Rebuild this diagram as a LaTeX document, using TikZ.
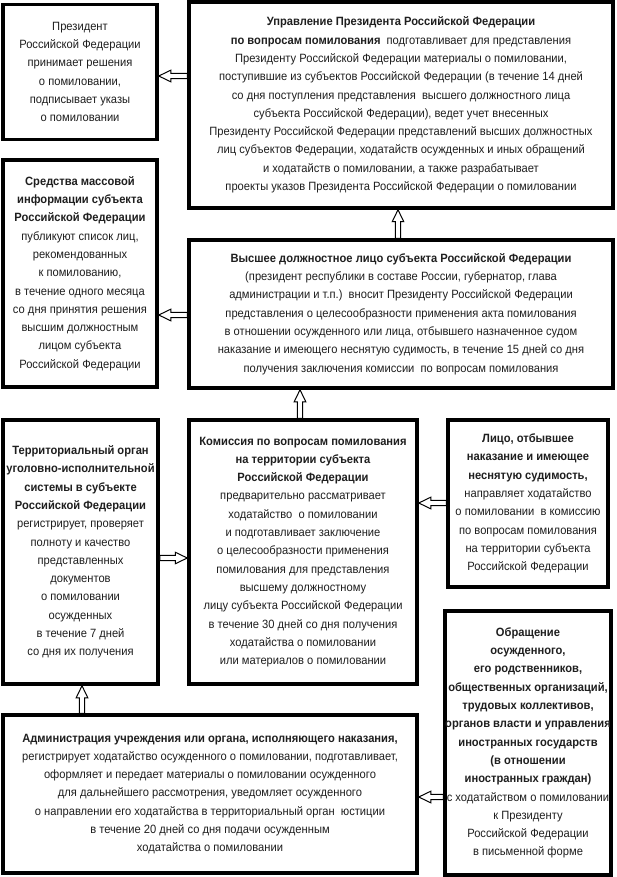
\documentclass[tikz,border=0pt]{standalone}
\usepackage{fontspec}
\setmainfont{Liberation Sans}[FakeStretch=0.93]
\usetikzlibrary{calc}
\tikzset{
  box/.style={draw=black, line width=3.5pt, align=center, inner sep=0pt,
    font=\fontsize{12}{18.3}\selectfont, text=black!88},
}
\newcommand\blockarrow[2]{%
 \path[draw=black, fill=white, line width=1pt, line join=miter]
   let \p1=(#1), \p2=(#2), \n1={atan2(\y2-\y1,\x2-\x1)}, \n2={veclen(\x2-\x1,\y2-\y1)} in
   {[shift={(\p1)}, rotate=\n1] (0pt,-2.6pt) -- ({\n2-12pt},-2.6pt) -- ({\n2-12pt},-5.8pt)
     -- ({\n2+0pt},0pt) -- ({\n2-12pt},5.8pt) -- ({\n2-12pt},2.6pt) -- (0pt,2.6pt) -- cycle};}
\begin{document}
\begin{tikzpicture}[x=1pt,y=-1pt]
\fill[white] (0,0) rectangle (616,877);
\useasboundingbox (0,0) rectangle (616,877);

\node[box, minimum width=154pt, minimum height=135pt] (b1) at (80,72)
 {Президент\\Российской Федерации\\принимает решения\\о помиловании,\\подписывает указы\\о помиловании};

\node[box, minimum width=424pt, minimum height=206pt] (b2) at (401,105)
 {\textbf{Управление Президента Российской Федерации}\\
  \textbf{по вопросам помилования}\ \ подготавливает для представления\\
  Президенту Российской Федерации материалы о помиловании,\\
  поступившие из субъектов Российской Федерации (в течение 14 дней\\
  со дня поступления представления\ \ высшего должностного лица\\
  субъекта Российской Федерации), ведет учет внесенных\\
  Президенту Российской Федерации представлений высших должностных\\
  лиц субъектов Федерации, ходатайств осужденных и иных обращений\\
  и ходатайств о помиловании, а также разрабатывает\\
  проекты указов Президента Российской Федерации о помиловании};

\node[box, minimum width=154pt, minimum height=227pt] (b3) at (80,273.5)
 {\textbf{Средства массовой}\\\textbf{информации субъекта}\\\textbf{Российской Федерации}\\
  публикуют список лиц,\\рекомендованных\\к помилованию,\\в течение одного месяца\\
  со дня принятия решения\\высшим должностным\\лицом субъекта\\Российской Федерации};

\node[box, minimum width=424pt, minimum height=148pt] (b4) at (401,314)
 {\textbf{Высшее должностное лицо субъекта Российской Федерации}\\
  (президент республики в составе России, губернатор, глава\\
  администрации и т.п.)\ \ вносит Президенту Российской Федерации\\
  представления о целесообразности применения акта помилования\\
  в отношении осужденного или лица, отбывшего назначенное судом\\
  наказание и имеющего неснятую судимость, в течение 15 дней со дня\\
  получения заключения комиссии\ \ по вопросам помилования};

\node[box, minimum width=155pt, minimum height=264pt] (b5) at (80.5,552)
 {\textbf{Территориальный орган}\\\textbf{уголовно-исполнительной}\\\textbf{системы в субъекте}\\
  \textbf{Российской Федерации}\\регистрирует, проверяет\\полноту и качество\\представленных\\
  документов\\о помиловании\\осужденных\\в течение 7 дней\\со дня их получения};

\node[box, minimum width=228pt, minimum height=264pt] (b6) at (303,552)
 {\textbf{Комиссия по вопросам помилования}\\\textbf{на территории субъекта}\\
  \textbf{Российской Федерации}\\предварительно рассматривает\\ходатайство\ \ о помиловании\\
  и подготавливает заключение\\о целесообразности применения\\помилования для представления\\
  высшему должностному\\лицу субъекта Российской Федерации\\в течение 30 дней со дня получения\\
  ходатайства о помиловании\\или материалов о помиловании};

\node[box, minimum width=160pt, minimum height=167pt] (b7) at (528,503.5)
 {\textbf{Лицо, отбывшее}\\\textbf{наказание и имеющее}\\\textbf{неснятую судимость,}\\
  направляет ходатайство\\о помиловании\ \ в комиссию\\по вопросам помилования\\
  на территории субъекта\\Российской Федерации};

\node[box, minimum width=160pt, minimum height=264pt] (b8) at (528,743)
 {\textbf{Обращение}\\\textbf{осужденного,}\\\textbf{его родственников,}\\
  \textbf{общественных организаций,}\\\textbf{трудовых коллективов,}\\
  \textbf{органов власти и управления}\\\textbf{иностранных государств}\\
  \textbf{(в отношении}\\\textbf{иностранных граждан)}\\с ходатайством о помиловании\\
  к Президенту\\Российской Федерации\\в письменной форме};

\node[box, minimum width=414pt, minimum height=158pt] (b9) at (210,794)
 {\textbf{Администрация учреждения или органа, исполняющего наказания,}\\
  регистрирует ходатайство осужденного о помиловании, подготавливает,\\
  оформляет и передает материалы о помиловании осужденного\\
  для дальнейшего рассмотрения, уведомляет осужденного\\
  о направлении его ходатайства в территориальный орган\ \ юстиции\\
  в течение 20 дней со дня подачи осужденным\\
  ходатайства о помиловании};

\coordinate (ya) at (0,76);
\coordinate (xb) at (398,0);
\coordinate (yc) at (0,315);
\coordinate (xd) at (300,0);
\coordinate (ye) at (0,558);
\coordinate (yf) at (0,503);
\coordinate (xg) at (82,0);
\coordinate (yh) at (0,797);

\blockarrow{b2.west |- ya}{b1.east |- ya}
\blockarrow{b4.north -| xb}{b2.south -| xb}
\blockarrow{b4.west |- yc}{b3.east |- yc}
\blockarrow{b6.north -| xd}{b4.south -| xd}
\blockarrow{b5.east |- ye}{b6.west |- ye}
\blockarrow{b7.west |- yf}{b6.east |- yf}
\blockarrow{b9.north -| xg}{b5.south -| xg}
\blockarrow{b8.west |- yh}{b9.east |- yh}
\end{tikzpicture}
\end{document}
